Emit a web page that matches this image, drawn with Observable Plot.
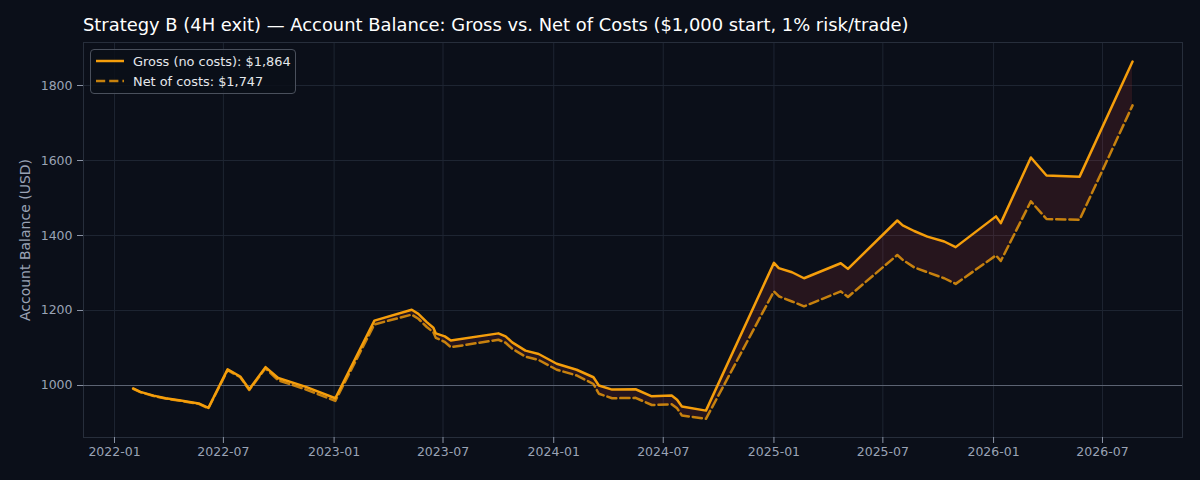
<!DOCTYPE html>
<html>
<head>
<meta charset="utf-8">
<script src="https://cdn.jsdelivr.net/npm/d3@7"></script>
<script src="https://cdn.jsdelivr.net/npm/@observablehq/plot@0.6"></script>
<style>
  html, body { margin: 0; padding: 0; background: #0b0f19; }
  #wrap { position: relative; width: 1200px; height: 480px; background: #0b0f19; font-family: "DejaVu Sans", sans-serif; }
  #title { position: absolute; left: 83px; top: 14px; color: #ffffff; font-size: 17.9px; white-space: nowrap; }
  #legend { position: absolute; left: 90px; top: 49px; width: 204px; height: 43px; border: 1px solid #4a505c; border-radius: 4px; background: rgba(11,15,25,0.85); color: #e5e7eb; font-size: 12.9px; }
  .entry { position: absolute; left: 4px; display: flex; align-items: center; white-space: nowrap; }
  .entry svg { margin-right: 8px; }
</style>
</head>
<body>
<div id="wrap">
  <div id="title">Strategy B (4H exit) — Account Balance: Gross vs. Net of Costs ($1,000 start, 1% risk/trade)</div>
  <div id="chart"></div>
  <div id="legend"></div>
</div>
<script>
const dates = [
  "2022-02-01","2022-02-13","2022-03-07","2022-03-27","2022-04-21","2022-05-21","2022-06-06",
  "2022-07-08","2022-07-29","2022-08-13","2022-09-09","2022-09-30","2022-11-14","2023-01-03",
  "2023-03-09","2023-05-10","2023-05-21","2023-06-04","2023-06-15","2023-06-19","2023-07-04",
  "2023-07-14","2023-10-01","2023-10-13","2023-10-24","2023-11-15","2023-12-07","2024-01-06",
  "2024-02-08","2024-03-07","2024-03-16","2024-04-07","2024-05-16","2024-06-12","2024-07-15",
  "2024-07-24","2024-08-01","2024-09-10","2025-01-01","2025-01-09","2025-01-31","2025-02-20",
  "2025-04-22","2025-05-04","2025-07-25","2025-08-03","2025-08-22","2025-09-13","2025-10-11",
  "2025-10-30","2026-01-05","2026-01-13","2026-03-04","2026-03-30","2026-05-24","2026-08-20"
];
const gross = [
  992, 983, 973, 966, 960, 952, 940,
  1043, 1024, 990, 1049, 1020, 997, 966,
  1173, 1202, 1191, 1169, 1154, 1139, 1131,
  1120, 1139, 1131, 1115, 1093, 1084, 1058,
  1042, 1022, 1000, 989, 990, 971, 973,
  962, 944, 933, 1327, 1313, 1302, 1286,
  1326, 1311, 1440, 1427, 1412, 1397, 1384,
  1369, 1451, 1433, 1608, 1560, 1557, 1864
];
const net = [
  991, 982, 972, 965, 959, 951, 939,
  1041, 1022, 988, 1046, 1014, 990, 959,
  1163, 1189, 1178, 1156, 1142, 1127, 1116,
  1102, 1122, 1114, 1098, 1077, 1068, 1042,
  1027, 1004, 978, 966, 967, 948, 950,
  939, 920, 911, 1251, 1238, 1224, 1211,
  1251, 1236, 1348, 1335, 1315, 1302, 1286,
  1271, 1347, 1332, 1491, 1444, 1442, 1747
];
const xTicks = ["2022-01-01","2022-07-01","2023-01-01","2023-07-01","2024-01-01","2024-07-01","2025-01-01","2025-07-01","2026-01-01","2026-07-01"];
const yTicks = [1000, 1200, 1400, 1600, 1800];
const startBalance = 1000;
const yLabel = "Account Balance (USD)";
const grossLabel = "Gross (no costs)";
const netLabel = "Net of costs";

const data = dates.map((d, i) => ({date: new Date(d + "T00:00:00Z"), gross: gross[i], net: net[i]}));
const xt = xTicks.map(d => new Date(d + "T00:00:00Z"));

const GROSS = "#f59e0b";
const GRID = "#1e2532";
const TXT = "#9aa3b5";
const DASH = "9.2,4";

const chart = Plot.plot({
  width: 1200,
  height: 480,
  marginTop: 42,
  marginBottom: 43,
  marginLeft: 83,
  marginRight: 18,
  style: {background: "transparent", color: TXT, fontFamily: "DejaVu Sans, sans-serif", fontSize: "12.5px"},
  x: {type: "utc", domain: [new Date("2021-11-10T12:00:00Z"), new Date("2026-11-11T00:00:00Z")]},
  y: {domain: [861.3, 1914.7]},
  marks: [
    Plot.gridX(xt, {stroke: GRID, strokeOpacity: 1, strokeWidth: 1}),
    Plot.gridY(yTicks, {stroke: GRID, strokeOpacity: 1, strokeWidth: 1}),
    Plot.frame({stroke: "#272e3b", strokeWidth: 1}),
    Plot.ruleY([startBalance], {stroke: "#5c6372", strokeWidth: 1.2}),
    Plot.areaY(data, {x: "date", y1: "net", y2: "gross", fill: "#ef4444", fillOpacity: 0.12}),
    Plot.line(data, {x: "date", y: "net", stroke: GROSS, strokeOpacity: 0.8, strokeWidth: 2.5, strokeDasharray: DASH}),
    Plot.line(data, {x: "date", y: "gross", stroke: GROSS, strokeWidth: 2.5}),
    Plot.axisX({ticks: xt, tickFormat: d3.utcFormat("%Y-%m"), tickSize: 6, tickPadding: 4, label: null, stroke: "#8a93a5", fill: TXT}),
    Plot.axisY({ticks: yTicks, tickFormat: d => String(d), tickSize: 6, tickPadding: 5, label: null, stroke: "#8a93a5", fill: TXT}),
    Plot.text([yLabel], {frameAnchor: "left", rotate: -90, dx: -58, text: d => d, fill: TXT, fontSize: 14, textAnchor: "middle"})
  ]
});
document.getElementById("chart").appendChild(chart);

const fmt = d3.format("$,.0f");
const legend = document.getElementById("legend");
const entries = [
  {label: `${grossLabel}: ${fmt(gross[gross.length - 1])}`, dash: null, op: 1, top: 3},
  {label: `${netLabel}: ${fmt(net[net.length - 1])}`, dash: DASH, op: 0.8, top: 23}
];
for (const e of entries) {
  const div = document.createElement("div");
  div.className = "entry";
  div.style.top = e.top + "px";
  div.innerHTML = `<svg width="30" height="16"><line x1="1" x2="29" y1="8" y2="8" stroke="${GROSS}" stroke-opacity="${e.op}" stroke-width="2.5" ${e.dash ? `stroke-dasharray="${e.dash}"` : ""}/></svg><span>${e.label}</span>`;
  legend.appendChild(div);
}
</script>
</body>
</html>
